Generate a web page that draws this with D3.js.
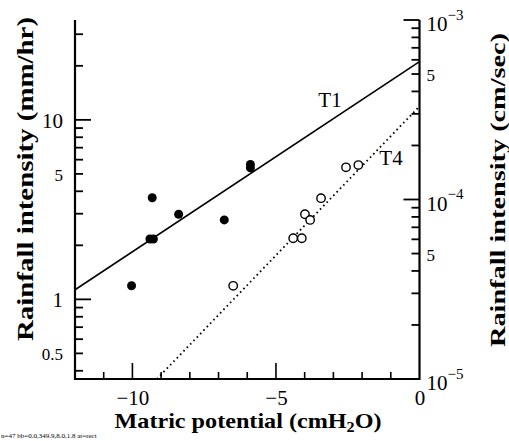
<!DOCTYPE html>
<html>
<head>
<meta charset="utf-8">
<script src="https://cdn.jsdelivr.net/npm/d3@7"></script>
<style>
  body { margin: 0; background: #fff; }
  svg { display: block; }
  text { font-family: "Liberation Serif", "Times New Roman", serif; fill: #000; }
  .bold { font-weight: bold; }
</style>
</head>
<body>
<div id="chart"></div>
<script>
// T1 (filled dots) and T4 (open circles), matric potential in cmH2O, rainfall in mm/hr
var t1Psi  = [-10.03, -9.31, -8.39, -9.39, -9.27, -6.80, -5.89, -5.89];
var t1Rain = [1.19, 3.68, 2.98, 2.17, 2.17, 2.77, 5.64, 5.40];
var t4Psi  = [-6.49, -4.40, -4.10, -3.99, -3.81, -3.43, -2.56, -2.13];
var t4Rain = [1.19, 2.19, 2.19, 2.98, 2.77, 3.66, 5.44, 5.60];

// fitted lines (end points)
var t1FitPsi  = [-12, 0];
var t1FitRain = [1.13, 21.1];
var t4FitPsi  = [-9.15, 0];
var t4FitRain = [0.36, 11.9];

// ticks
var xMajorTicks = [-10, -5];
var xMinorTicks = [-11, -9, -8, -7, -6, -4, -3, -2, -1];
var xTickLabels = [-10, -5, 0];
var leftMajorTicks = [1, 10];
var leftMinorTicks = [0.4, 0.5, 0.6, 0.7, 0.8, 0.9, 2, 3, 4, 5, 6, 7, 8, 9, 20, 30];
var leftMajorLabels = [1, 10];
var leftMinorLabels = [0.5, 5];
var rightMajorTicks = [1e-4, 1e-3];
var rightMinorTicks = [2e-5, 3e-5, 4e-5, 5e-5, 6e-5, 7e-5, 8e-5, 9e-5,
                       2e-4, 3e-4, 4e-4, 5e-4, 6e-4, 7e-4, 8e-4, 9e-4];
var rightMajorLabels = [1e-5, 1e-4, 1e-3];
var rightMinorLabels = [5e-5, 5e-4];

var svgWidth = 509, svgHeight = 441;
var margin = {top: 20, right: 89.5, bottom: 62, left: 75};
var width = svgWidth - margin.left - margin.right;
var height = svgHeight - margin.top - margin.bottom;

var svg = d3.select("#chart").append("svg")
  .attr("width", svgWidth)
  .attr("height", svgHeight);
var chartGroup = svg.append("g")
  .attr("transform", `translate(${margin.left}, ${margin.top})`);

var xScale = d3.scaleLinear().domain([-12, 0]).range([0, width]);
var yLeft = d3.scaleLog().domain([0.36, 36]).range([height, 0]);
var yRight = d3.scaleLog().domain([1e-5, 1e-3]).range([height, 0]);

// ---- tick marks (inward), as thin rects ----
var tickGroup = chartGroup.append("g").attr("fill", "#000");
function vTicks(vals, scale, x0, len, w) {
  tickGroup.selectAll(null)
    .data(vals).enter().append("rect")
    .attr("x", len > 0 ? x0 : x0 + len)
    .attr("y", d => scale(d) - w / 2)
    .attr("width", Math.abs(len))
    .attr("height", w);
}
function hTicks(vals, len, w) {
  tickGroup.selectAll(null)
    .data(vals).enter().append("rect")
    .attr("x", d => xScale(d) - w / 2)
    .attr("y", height - len)
    .attr("width", w)
    .attr("height", len);
}
vTicks(leftMinorTicks, yLeft, 0, 8, 1.8);
vTicks(leftMajorTicks, yLeft, 0, 16, 1.8);
vTicks(rightMinorTicks, yRight, width, -8, 1.8);
vTicks(rightMajorTicks, yRight, width, -16, 1.8);
hTicks(xMinorTicks, 7, 1.6);
hTicks(xMajorTicks, 16, 1.6);

// axis lines (left, bottom, right)
var seg = d3.line();
chartGroup.append("path").attr("d", seg([[0, 0], [0, height], [width, height], [width, 0]]))
  .attr("fill", "none").attr("stroke", "#000").attr("stroke-width", 2.2);

// ---- tick labels ----
chartGroup.append("g")
  .call(d3.axisLeft(yLeft).tickValues(leftMajorLabels).tickSize(0).tickPadding(12).tickFormat(d3.format("")))
  .call(g => g.select(".domain").remove())
  .selectAll("text").attr("font-size", 21).attr("font-family", null).attr("dy", "0.36em");
chartGroup.append("g")
  .call(d3.axisLeft(yLeft).tickValues(leftMinorLabels).tickSize(0).tickPadding(12).tickFormat(d3.format("")))
  .call(g => g.select(".domain").remove())
  .selectAll("text").attr("font-size", 17).attr("font-family", null).attr("dy", "0.36em");

chartGroup.append("g").attr("transform", `translate(0,${height})`)
  .call(d3.axisBottom(xScale).tickValues(xTickLabels).tickSize(0).tickPadding(11).tickFormat(d3.format("")))
  .call(g => g.select(".domain").remove())
  .selectAll("text").attr("font-size", 21).attr("font-family", null);

var rightLab = chartGroup.append("g").attr("transform", `translate(${width},0)`)
  .call(d3.axisRight(yRight).tickValues(rightMajorLabels).tickSize(0).tickPadding(7).tickFormat(""))
  .call(g => g.select(".domain").remove());
rightLab.selectAll("text")
  .attr("font-size", 21).attr("font-family", null).attr("dy", "0.5em")
  .each(function(d) {
    var t = d3.select(this);
    t.append("tspan").text("10");
    t.append("tspan").attr("font-size", 15).attr("dy", "-0.75em")
      .text("\u2212" + Math.round(-Math.log10(d)));
  });
chartGroup.append("g").attr("transform", `translate(${width},0)`)
  .call(d3.axisRight(yRight).tickValues(rightMinorLabels).tickSize(0).tickPadding(7)
    .tickFormat(d => Math.round(d / Math.pow(10, Math.floor(Math.log10(d)))) ))
  .call(g => g.select(".domain").remove())
  .selectAll("text").attr("font-size", 17).attr("font-family", null).attr("dy", "0.4em");

// ---- fitted lines (clipped to the plot box) ----
chartGroup.append("clipPath").attr("id", "plotclip")
  .append("rect").attr("width", width).attr("height", height);
var fitLine = d3.line().x(d => xScale(d[0])).y(d => yLeft(d[1]));
var fits = chartGroup.append("g").attr("clip-path", "url(#plotclip)");
fits.append("path")
  .attr("d", fitLine(d3.zip(t1FitPsi, t1FitRain)))
  .attr("fill", "none").attr("stroke", "#000").attr("stroke-width", 1.7);
fits.append("path")
  .attr("d", fitLine(d3.zip(t4FitPsi, t4FitRain)))
  .attr("fill", "none").attr("stroke", "#000").attr("stroke-width", 1.8)
  .attr("stroke-dasharray", "1.6,3.2");

// ---- points ----
chartGroup.selectAll("circle.t1")
  .data(d3.zip(t1Psi, t1Rain))
  .enter().append("circle")
  .attr("class", "t1")
  .attr("cx", d => xScale(d[0]))
  .attr("cy", d => yLeft(d[1]))
  .attr("r", 4.5)
  .attr("fill", "#000");
chartGroup.selectAll("circle.t4")
  .data(d3.zip(t4Psi, t4Rain))
  .enter().append("circle")
  .attr("class", "t4")
  .attr("cx", d => xScale(d[0]))
  .attr("cy", d => yLeft(d[1]))
  .attr("r", 4.2)
  .attr("fill", "#fff")
  .attr("stroke", "#000")
  .attr("stroke-width", 1.4);

// series labels
chartGroup.append("text").attr("x", 330 - margin.left).attr("y", 107 - margin.top)
  .attr("text-anchor", "middle").attr("font-size", 21).text("T1");
chartGroup.append("text").attr("x", 391 - margin.left).attr("y", 165 - margin.top)
  .attr("text-anchor", "middle").attr("font-size", 21).text("T4");

// ---- axis titles ----
svg.append("text").attr("class", "bold")
  .attr("transform", "translate(33,179) rotate(-90)")
  .attr("text-anchor", "middle").attr("font-size", 24)
  .attr("textLength", 324).attr("lengthAdjust", "spacingAndGlyphs")
  .text("Rainfall  intensity  (mm/hr)");

svg.append("text").attr("class", "bold")
  .attr("transform", "translate(505,190) rotate(-90)")
  .attr("text-anchor", "middle").attr("font-size", 22)
  .attr("textLength", 314).attr("lengthAdjust", "spacingAndGlyphs")
  .text("Rainfall  intensity  (cm/sec)");

var xt = svg.append("text").attr("class", "bold")
  .attr("x", 248).attr("y", 428)
  .attr("text-anchor", "middle").attr("font-size", 21)
  .attr("textLength", 267).attr("lengthAdjust", "spacingAndGlyphs");
xt.append("tspan").text("Matric  potential  (cmH");
xt.append("tspan").attr("font-size", 14).attr("dy", 4).text("2");
xt.append("tspan").attr("dy", -4).text("O)");

// debug (bottom-left corner)
var r0 = tickGroup.select("rect").node();
var bb = r0.getBBox();
var el = document.elementFromPoint(margin.left + 4, margin.top + yLeft(10));
svg.append("text").attr("x", 1).attr("y", 438).attr("font-size", 7)
  .text("n=" + tickGroup.selectAll("rect").size() + " bb=" + [bb.x, bb.y, bb.width, bb.height].map(v => v.toFixed(1)).join(",")
    + " at=" + (el ? el.tagName : "none"));
</script>
</body>
</html>
